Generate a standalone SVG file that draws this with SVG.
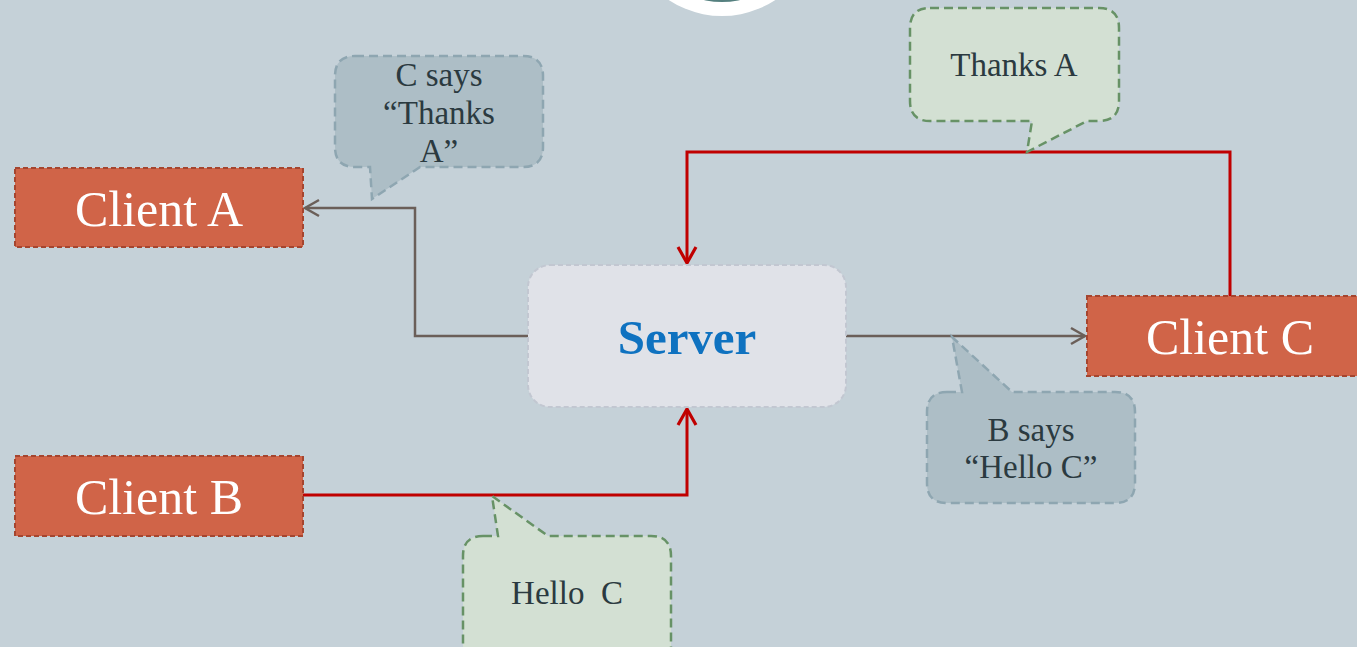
<svg xmlns="http://www.w3.org/2000/svg" width="1357" height="647" viewBox="0 0 1357 647">
<defs>
<style>
.client{fill:#d06448;stroke:#a5452f;stroke-width:2;stroke-dasharray:5,3}
.ctext{font-family:"Liberation Serif","DejaVu Serif",serif;font-size:50px;fill:#ffffff;text-anchor:middle}
.bub-b{fill:#adbec6;stroke:#8ea6b1;stroke-width:2.5;stroke-dasharray:9,5}
.bub-g{fill:#d3e0d3;stroke:#679266;stroke-width:2.5;stroke-dasharray:9,5}
.btext{font-family:"Liberation Serif","DejaVu Serif",serif;font-size:33px;fill:#2b3a40;text-anchor:middle}
.gray{fill:none;stroke:#6b5f59;stroke-width:2.5}
.red{fill:none;stroke:#c00000;stroke-width:3}
</style>
<marker id="ag" markerWidth="20" markerHeight="20" refX="16" refY="10" orient="auto" markerUnits="userSpaceOnUse"><path d="M2,2 L16,10 L2,18" fill="none" stroke="#6b5f59" stroke-width="2.5"/></marker>
<marker id="ar" markerWidth="22" markerHeight="22" refX="18" refY="11" orient="auto" markerUnits="userSpaceOnUse"><path d="M2,2 L18,11 L2,20" fill="none" stroke="#c00000" stroke-width="3.2"/></marker>
</defs>
<rect width="1357" height="647" fill="#c5d1d8"/>
<g id="logo"><circle cx="722" cy="-81" r="97" fill="#ffffff"/><circle cx="722" cy="-81" r="83" fill="#55807f"/></g>
<g id="connectors">
<path class="gray" d="M528,336 H415 V208 H305" marker-end="url(#ag)"/>
<path class="gray" d="M846,336 H1085" marker-end="url(#ag)"/>
<path class="red" d="M303,495 H687 V409" marker-end="url(#ar)"/>
<path class="red" d="M1230,296 V152 H687 V263" marker-end="url(#ar)"/>
</g>
<g id="server"><rect x="528" y="265" width="318" height="142" rx="22" fill="#e0e2e8" stroke="#c2c7d1" stroke-width="2" stroke-dasharray="5,3"/><text x="687" y="354" font-family="Liberation Serif,DejaVu Serif,serif" font-size="49" font-weight="bold" fill="#0f72c0" text-anchor="middle">Server</text></g>
<g id="clientA"><rect class="client" x="15" y="168" width="288" height="79"/><text class="ctext" x="159" y="226">Client A</text></g>
<g id="clientB"><rect class="client" x="15" y="456" width="288" height="80"/><text class="ctext" x="159" y="514">Client B</text></g>
<g id="clientC"><rect class="client" x="1087" y="296" width="290" height="80"/><text class="ctext" x="1230" y="354">Client C</text></g>
<g id="bubble1"><path class="bub-b" d="M355,56 H523 Q543,56 543,76 V147 Q543,167 523,167 H420 L372,199 L370,167 H355 Q335,167 335,147 V76 Q335,56 355,56 Z"/><text class="btext" x="439" y="86">C says</text><text class="btext" x="439" y="124">“Thanks</text><text class="btext" x="439" y="162">A”</text></g>
<g id="bubble2"><path class="bub-g" d="M930,8 H1099 Q1119,8 1119,28 V101 Q1119,121 1099,121 H1087 L1027,152 L1032,121 H930 Q910,121 910,101 V28 Q910,8 930,8 Z"/><text class="btext" x="1014" y="76">Thanks A</text></g>
<g id="bubble3"><path class="bub-b" d="M947,392 H962 L952,337 L1012,392 H1115 Q1135,392 1135,412 V483 Q1135,503 1115,503 H947 Q927,503 927,483 V412 Q927,392 947,392 Z"/><text class="btext" x="1031" y="441">B says</text><text class="btext" x="1031" y="478">“Hello C”</text></g>
<g id="bubble4"><path class="bub-g" d="M483,536 H498 L492,496 L548,536 H651 Q671,536 671,556 V660 H463 V556 Q463,536 483,536 Z"/><text class="btext" x="567" y="604" xml:space="preserve">Hello  C</text></g>
</svg>
